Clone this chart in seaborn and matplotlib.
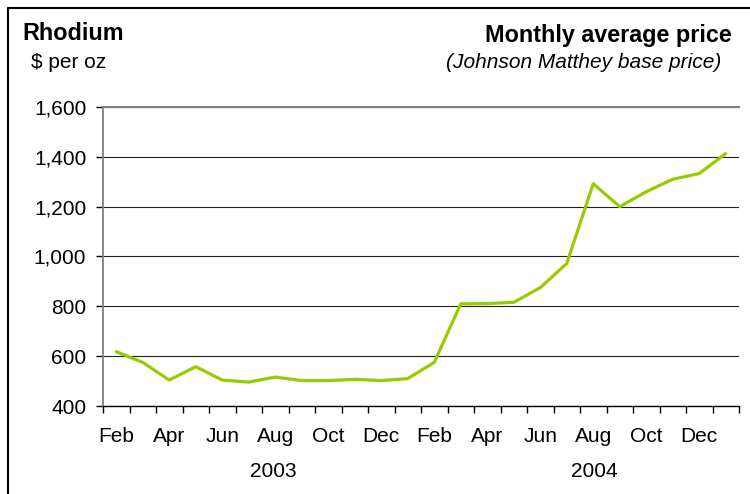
import numpy as np
import pandas as pd
import matplotlib
matplotlib.use("Agg")
import matplotlib.pyplot as plt
from matplotlib.lines import Line2D
from matplotlib.ticker import FuncFormatter
import seaborn as sns

# Datos: precio medio mensual del rodio (Feb 2003 - Ene 2005)
months = ["Feb", "Mar", "Apr", "May", "Jun", "Jul", "Aug", "Sep", "Oct", "Nov", "Dec", "Jan",
          "Feb", "Mar", "Apr", "May", "Jun", "Jul", "Aug", "Sep", "Oct", "Nov", "Dec", "Jan"]
prices = [618, 575, 504, 558, 504, 496, 516, 502, 502, 507, 502, 510,
          575, 810, 811, 816, 875, 972, 1292, 1200, 1260, 1310, 1333, 1413]
tick_months = ["Feb", "Apr", "Jun", "Aug", "Oct", "Dec", "Feb", "Apr", "Jun", "Aug", "Oct", "Dec"]
years = ["2003", "2004"]
year_pos = [5.92, 18.05]
yticks = [400, 600, 800, 1000, 1200, 1400, 1600]

df = pd.DataFrame({"idx": np.arange(len(prices)), "price": prices, "month": months})

sns.set_style("white")
plt.rcParams["font.family"] = ["Liberation Sans", "DejaVu Sans"]
plt.rcParams["text.color"] = "black"
plt.rcParams["xtick.color"] = "black"
plt.rcParams["ytick.color"] = "black"

fig = plt.figure(figsize=(7.5, 4.94), dpi=100)
ax = fig.add_axes([103 / 750, 1 - 406 / 494, 636 / 750, 299 / 494])

sns.lineplot(data=df, x="idx", y="price", color="#99cc00", linewidth=2.3, ax=ax)

ax.set_xlim(-0.5, len(prices) - 0.5)
ax.set_ylim(400, 1600)
ax.set_yticks(yticks)
ax.yaxis.set_major_formatter(FuncFormatter(lambda v, p: f"{int(v):,}"))

# Ticks del eje x: marcas en los límites, etiquetas centradas
ax.set_xticks(np.arange(0, len(prices), 2))
ax.set_xticklabels(tick_months)
ax.set_xticks(np.arange(-0.5, len(prices), 1), minor=True)
ax.tick_params(axis="x", which="major", length=0, pad=15, labelsize=15, labelcolor="black")
ax.tick_params(axis="x", which="minor", length=5, width=1, direction="out", color="black", bottom=True)
ax.tick_params(axis="y", length=5, width=1, direction="out", color="black", pad=7, labelsize=15,
               labelcolor="black", left=True)
ax.set_xlabel("")
ax.set_ylabel("")

ax.yaxis.grid(True, color="#222222", linewidth=0.8)
ax.set_axisbelow(True)
ax.spines["right"].set_visible(False)
ax.spines["top"].set_color("#808080")
ax.spines["top"].set_linewidth(1.5)
ax.spines["left"].set_color("#808080")
ax.spines["left"].set_linewidth(1.3)
ax.spines["bottom"].set_color("black")
ax.spines["bottom"].set_linewidth(1)

for yr, xp in zip(years, year_pos):
    ax.text(xp, -0.219, yr, transform=ax.get_xaxis_transform(), ha="center", va="center",
            fontsize=15, color="black")

# Títulos
fig.text(22 / 750, 1 - 39.5 / 494, "Rhodium", fontsize=16.8, fontweight="bold", va="baseline", color="black")
fig.text(31 / 750, 1 - 68.3 / 494, "$ per oz", fontsize=15, va="baseline", color="black")
fig.text(732 / 750, 1 - 42 / 494, "Monthly average price", fontsize=16.8, fontweight="bold",
         ha="right", va="baseline", color="black")
fig.text(721 / 750, 1 - 68.3 / 494, "(Johnson Matthey base price)", fontsize=15, style="italic",
         ha="right", va="baseline", color="black")

# Marco
fig.add_artist(Line2D([8 / 750, 1], [1 - 8 / 494, 1 - 8 / 494], transform=fig.transFigure, color="black", lw=1.5))
fig.add_artist(Line2D([8 / 750, 8 / 750], [0, 1 - 8 / 494], transform=fig.transFigure, color="black", lw=1.5))

plt.savefig("out.png", dpi=100)
